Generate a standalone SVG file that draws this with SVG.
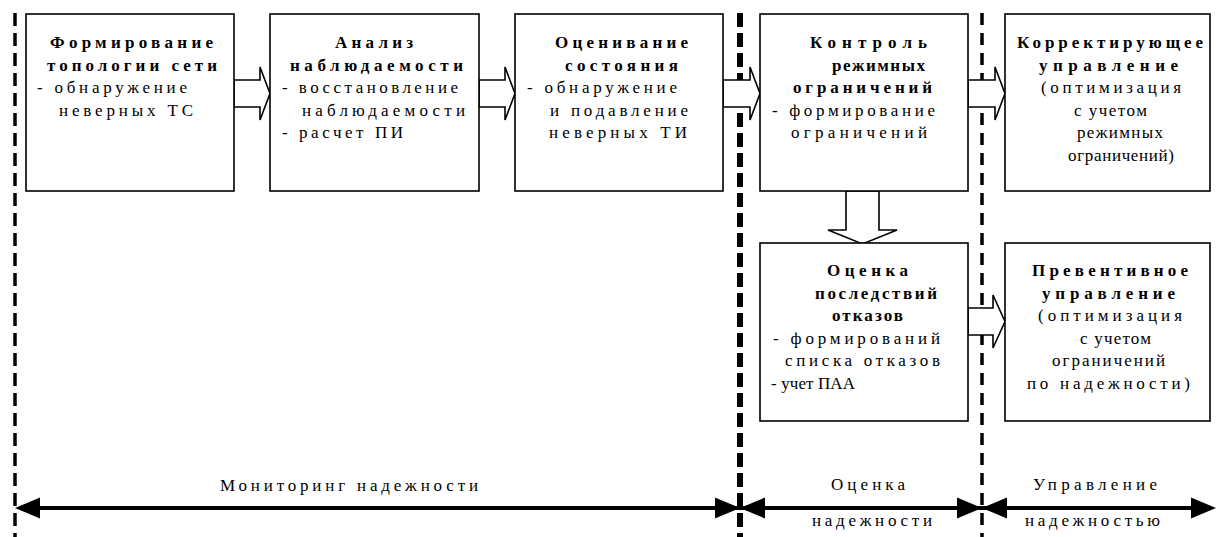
<svg xmlns="http://www.w3.org/2000/svg" width="1218" height="537" viewBox="0 0 1218 537">
  <style>
    .box { fill: #fff; stroke: #000; stroke-width: 1.6; }
    .blk { fill: #fff; stroke: #000; stroke-width: 1.6; stroke-linejoin: miter; }
    .t { font-family: "Liberation Serif", "Times New Roman", serif; font-size: 17px; fill: #000; }
    .b { font-weight: bold; }
    .sep { stroke: #000; fill: none; }
    .axis { stroke: #000; stroke-width: 4; }
    .head { fill: #000; }
  </style>

  <!-- stage separators -->
  <g id="separators">
    <line class="sep" x1="15" y1="13" x2="15" y2="537" stroke-width="3.5" stroke-dasharray="13 7"/>
    <line class="sep" x1="740" y1="13" x2="740" y2="537" stroke-width="6" stroke-dasharray="14 6"/>
    <line class="sep" x1="982" y1="13" x2="982" y2="537" stroke-width="3.5" stroke-dasharray="12 8"/>
  </g>

  <!-- block arrows between steps -->
  <g id="connectors">
    <polygon class="blk" points="234,80 260,80 260,67 270,93.5 260,120 260,107 234,107"/>
    <polygon class="blk" points="479,80 505,80 505,67 515,93.5 505,120 505,107 479,107"/>
    <polygon class="blk" points="723,80 750,80 750,67 760,93.5 750,120 750,107 723,107"/>
    <polygon class="blk" points="968,80 995,80 995,67 1005,93.5 995,120 995,107 968,107"/>
    <polygon class="blk" points="968,308 993,308 993,295 1005,321.5 993,348 993,335 968,335"/>
    <polygon class="blk" points="846,191 846,230 828,230 862.5,244 897,230 879,230 879,191"/>
  </g>

  <g id="node-topology">
    <rect class="box" x="26" y="14" width="208" height="177"/>
    <text class="t b" x="50" y="48" textLength="163" lengthAdjust="spacing">Формирование</text>
    <text class="t b" x="47" y="70.6" textLength="170" lengthAdjust="spacing">топологии сети</text>
    <text class="t" x="37" y="93.2" textLength="150" lengthAdjust="spacing">- обнаружение</text>
    <text class="t" x="59" y="115.8" textLength="134" lengthAdjust="spacing">неверных ТС</text>
  </g>

  <g id="node-observability">
    <rect class="box" x="270" y="14" width="209" height="177"/>
    <text class="t b" x="335" y="48" textLength="78" lengthAdjust="spacing">Анализ</text>
    <text class="t b" x="290" y="70.6" textLength="173" lengthAdjust="spacing">наблюдаемости</text>
    <text class="t" x="282" y="93.2" textLength="176" lengthAdjust="spacing">- восстановление</text>
    <text class="t" x="302" y="115.8" textLength="163" lengthAdjust="spacing">наблюдаемости</text>
    <text class="t" x="282" y="138.4" textLength="121" lengthAdjust="spacing">- расчет ПИ</text>
  </g>

  <g id="node-state-estimation">
    <rect class="box" x="515" y="14" width="208" height="177"/>
    <text class="t b" x="555" y="48" textLength="133" lengthAdjust="spacing">Оценивание</text>
    <text class="t b" x="565" y="70.6" textLength="113" lengthAdjust="spacing">состояния</text>
    <text class="t" x="527" y="93.2" textLength="150" lengthAdjust="spacing">- обнаружение</text>
    <text class="t" x="550" y="115.8" textLength="138" lengthAdjust="spacing">и подавление</text>
    <text class="t" x="549" y="138.4" textLength="138" lengthAdjust="spacing">неверных ТИ</text>
  </g>

  <g id="node-limits">
    <rect class="box" x="760" y="14" width="208" height="177"/>
    <text class="t b" x="810" y="48" textLength="117" lengthAdjust="spacing">Контроль</text>
    <text class="t b" x="832" y="70.6" textLength="93" lengthAdjust="spacing">режимных</text>
    <text class="t b" x="793" y="93.2" textLength="139" lengthAdjust="spacing">ограничений</text>
    <text class="t" x="772" y="115.8" textLength="163" lengthAdjust="spacing">- формирование</text>
    <text class="t" x="791" y="138.4" textLength="136" lengthAdjust="spacing">ограничений</text>
  </g>

  <g id="node-corrective">
    <rect class="box" x="1005" y="14" width="205" height="177"/>
    <text class="t b" x="1017" y="48" textLength="186" lengthAdjust="spacing">Корректирующее</text>
    <text class="t b" x="1039" y="70.6" textLength="139" lengthAdjust="spacing">управление</text>
    <text class="t" x="1041" y="93.2" textLength="140" lengthAdjust="spacing">(оптимизация</text>
    <text class="t" x="1074" y="115.8" textLength="73" lengthAdjust="spacing">с учетом</text>
    <text class="t" x="1077" y="138.4" textLength="86" lengthAdjust="spacing">режимных</text>
    <text class="t" x="1068" y="161" textLength="106" lengthAdjust="spacing">ограничений)</text>
  </g>

  <g id="node-contingency">
    <rect class="box" x="760" y="243" width="208" height="178"/>
    <text class="t b" x="827" y="276" textLength="81" lengthAdjust="spacing">Оценка</text>
    <text class="t b" x="815" y="298.6" textLength="122" lengthAdjust="spacing">последствий</text>
    <text class="t b" x="832" y="321.2" textLength="71" lengthAdjust="spacing">отказов</text>
    <text class="t" x="773" y="343.8" textLength="167" lengthAdjust="spacing">- формирований</text>
    <text class="t" x="785" y="366.4" textLength="155" lengthAdjust="spacing">списка отказов</text>
    <text class="t" x="771" y="389" textLength="84" lengthAdjust="spacing">- учет ПАА</text>
  </g>

  <g id="node-preventive">
    <rect class="box" x="1005" y="243" width="205" height="178"/>
    <text class="t b" x="1032" y="276" textLength="156" lengthAdjust="spacing">Превентивное</text>
    <text class="t b" x="1042" y="298.6" textLength="133" lengthAdjust="spacing">управление</text>
    <text class="t" x="1038" y="321.2" textLength="144" lengthAdjust="spacing">(оптимизация</text>
    <text class="t" x="1080" y="343.8" textLength="71" lengthAdjust="spacing">с учетом</text>
    <text class="t" x="1052" y="366.4" textLength="113" lengthAdjust="spacing">ограничений</text>
    <text class="t" x="1027" y="389" textLength="163" lengthAdjust="spacing">по надежности)</text>
  </g>

  <!-- phase axis with double-headed spans -->
  <g id="phase-axis">
    <line class="axis" x1="30" y1="508" x2="1200" y2="508"/>
    <polygon class="head" points="15,508 40,497.5 40,518.5"/>
    <polygon class="head" points="740,508 715,497.5 715,518.5"/>
    <polygon class="head" points="740,508 765,497.5 765,518.5"/>
    <polygon class="head" points="982,508 957,497.5 957,518.5"/>
    <polygon class="head" points="982,508 1007,497.5 1007,518.5"/>
    <polygon class="head" points="1216,508 1191,497.5 1191,518.5"/>
    <text class="t" x="220" y="491" textLength="258" lengthAdjust="spacing">Мониторинг надежности</text>
    <text class="t" x="831" y="490" textLength="74" lengthAdjust="spacing">Оценка</text>
    <text class="t" x="812" y="526" textLength="120" lengthAdjust="spacing">надежности</text>
    <text class="t" x="1033" y="490" textLength="124" lengthAdjust="spacing">Управление</text>
    <text class="t" x="1025" y="526" textLength="135" lengthAdjust="spacing">надежностью</text>
  </g>
</svg>
